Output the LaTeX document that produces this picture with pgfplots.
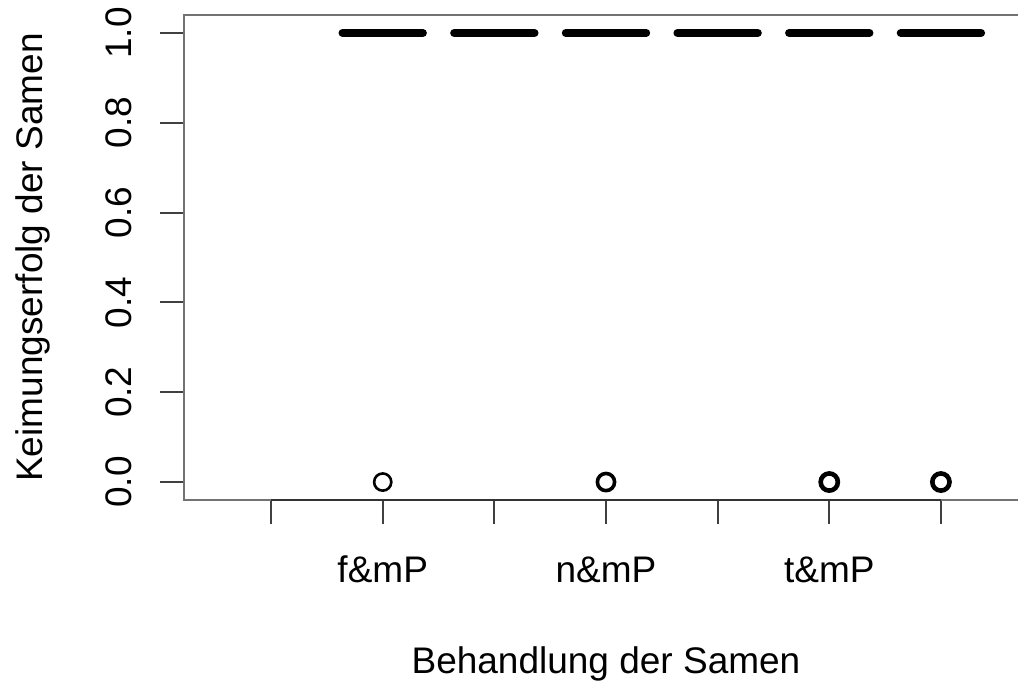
\documentclass[border=0pt]{standalone}
\usepackage{pgfplots}
\pgfplotsset{compat=1.18}
\usepackage{fontspec}
\setmainfont{Liberation Sans}
\newcommand\fs{\fontsize{18.5bp}{22bp}\selectfont}
\begin{document}
\begin{tikzpicture}[font=\fs]
\begin{axis}[
  scale only axis, width=422bp, height=242.5bp,
  xmin=0.22, xmax=7.78, ymin=-0.04, ymax=1.04,
  clip=false,
  axis line style={draw=black!55, line width=1bp},
  xtick={1,2,3,4,5,6,7},
  xticklabels={,f\&mP,,n\&mP,,t\&mP,},
  ytick={0,0.2,0.4,0.6,0.8,1},
  yticklabel={\pgfmathprintnumber[fixed,precision=1,fixed zerofill]{\tick}},
  /pgf/number format/assume math mode=true,
  tick pos=left, tick align=outside,
  major tick length=12bp,
  tick style={draw=black!75, line width=1bp},
  ticklabel style={font=\fs},
  yticklabel style={rotate=90, anchor=base},
  xticklabel style={anchor=base},
  xticklabel shift=29bp,
  yticklabel shift=14bp,
  xlabel={Behandlung der Samen},
  ylabel={Keimungserfolg der Samen},
  xlabel style={at={(axis description cs:0.5,-0.3567)}, anchor=base, font=\fs},
  ylabel style={at={(axis description cs:-0.1682,0.5)}, anchor=base, rotate=0, font=\fs},
  median/.style={black, line width=4bp, line cap=round, no markers},
  outl/.style={black, only marks, mark=o, mark size=4.3bp},
]
% medians (box collapsed at 1.0)
\addplot[median] coordinates {(1.64,1) (2.36,1)};
\addplot[median] coordinates {(2.64,1) (3.36,1)};
\addplot[median] coordinates {(3.64,1) (4.36,1)};
\addplot[median] coordinates {(4.64,1) (5.36,1)};
\addplot[median] coordinates {(5.64,1) (6.36,1)};
\addplot[median] coordinates {(6.64,1) (7.36,1)};
% outliers at 0
\addplot[outl, mark options={line width=1.3bp}] coordinates {(2,0)};
\addplot[outl, mark options={line width=1.8bp}] coordinates {(4,0)};
\addplot[outl, mark options={line width=2.3bp}] coordinates {(6,0) (7,0)};
\draw[black!80, line width=1bp] (axis cs:1,-0.04) -- (axis cs:7,-0.04);
\coordinate (sw) at (rel axis cs:0,0);
\end{axis}
\pgfresetboundingbox
\path[use as bounding box] ([shift={(-92bp,-91bp)}]sw) rectangle ([shift={(417bp,250bp)}]sw);
\end{tikzpicture}
\end{document}
